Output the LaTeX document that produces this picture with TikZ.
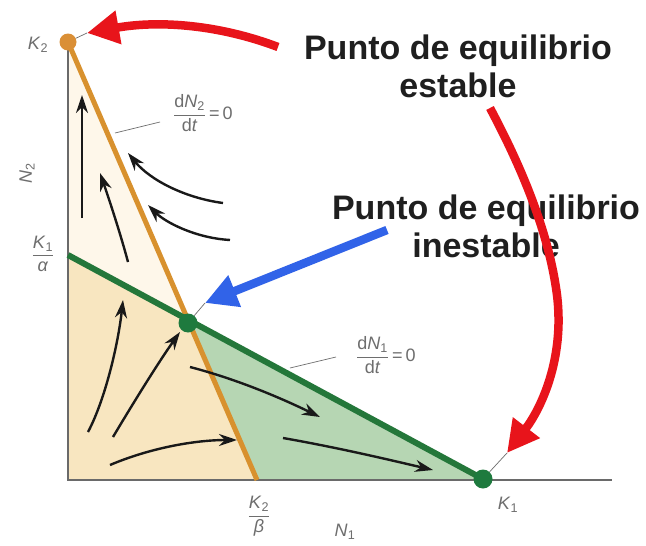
\documentclass[tikz,border=0pt]{standalone}
\usepackage{amsmath}
\usepackage{fontspec}
\setmainfont{Liberation Sans}
\usetikzlibrary{arrows.meta}
\definecolor{orangeline}{HTML}{D8912E}
\definecolor{orangedot}{HTML}{DA8F36}
\definecolor{greenline}{HTML}{24773A}
\definecolor{greendot}{HTML}{1E7A3E}
\definecolor{yellowfill}{HTML}{F8E6C0}
\definecolor{creamfill}{HTML}{FEF7EA}
\definecolor{greenfill}{HTML}{B6D6B3}
\definecolor{redarrow}{HTML}{E8141B}
\definecolor{bluearrow}{HTML}{3163E8}
\definecolor{axisgray}{HTML}{6A6A6A}
\definecolor{labelgray}{HTML}{6E6E6E}
\newcommand{\fr}[2]{\ensuremath{\dfrac{\mbox{#1}}{\mbox{#2}}}}
\tikzset{
  axisline/.style={draw=axisgray, line width=1.3pt},
  leader/.style={draw=labelgray, line width=0.7pt},
  phase/.style={draw=black!90, line width=2.4pt, -{Stealth[length=18pt,width=12pt]}},
  bigred/.style={draw=redarrow, line width=8.5pt, -{Triangle[length=32pt,width=32pt]}},
  bigblue/.style={draw=bluearrow, line width=8.5pt, -{Triangle[length=32pt,width=32pt]}},
  glabel/.style={text=labelgray, font=\fontsize{18}{20}\selectfont, inner sep=1pt},
  title/.style={text=black!88, font=\fontsize{34}{38}\selectfont\bfseries, align=center, inner sep=0pt},
  dot/.style={circle, inner sep=0pt, minimum size=#1}
}
\begin{document}
\begin{tikzpicture}[x=1pt,y=-1pt]
\useasboundingbox (0,0) rectangle (646,546);
\fill[white] (0,0) rectangle (646,546);
% key points
\coordinate (O) at (68,480);
\coordinate (K2p) at (68,42);
\coordinate (K1a) at (68,255);
\coordinate (K2b) at (257,480);
\coordinate (K1p) at (483,479);
\coordinate (X) at (188,323);
% fills
\fill[creamfill] (K2p) -- (X) -- (K1a) -- cycle;
\fill[yellowfill] (K1a) -- (X) -- (K2b) -- (O) -- cycle;
\fill[greenfill] (X) -- (K2b) -- (K1p) -- cycle;
% axes
\draw[axisline] (68,38) -- (O) -- (612,480);
% isoclines
\draw[draw=orangeline, line width=5pt] (K2p) -- (K2b);
\draw[draw=greenline, line width=6pt] (K1a) -- (K1p);
% dots
\node[dot=17pt, fill=orangedot] (dK2) at (K2p) {};
\node[dot=19pt, fill=greendot] (dX) at (X) {};
\node[dot=19pt, fill=greendot] (dK1) at (K1p) {};
% phase arrows
\coordinate (a1s) at (82,218); \coordinate (a1e) at (82,95);
\draw[phase] (a1s) -- (a1e);
\coordinate (a2s) at (128,262); \coordinate (a2e) at (100,173);
\draw[phase] (a2s) .. controls (120,232) and (108,196) .. (a2e);
\coordinate (a3s) at (223,203); \coordinate (a3e) at (128,153);
\draw[phase] (a3s) .. controls (185,198) and (150,180) .. (a3e);
\coordinate (a4s) at (230,240); \coordinate (a4e) at (148,205);
\draw[phase] (a4s) .. controls (195,238) and (165,222) .. (a4e);
\coordinate (a5s) at (88,432); \coordinate (a5e) at (123,300);
\draw[phase] (a5s) .. controls (105,400) and (118,345) .. (a5e);
\coordinate (a6s) at (113,437); \coordinate (a6e) at (180,332);
\draw[phase] (a6s) .. controls (135,400) and (160,360) .. (a6e);
\coordinate (a7s) at (110,465); \coordinate (a7e) at (237,440);
\draw[phase] (a7s) .. controls (150,448) and (195,440) .. (a7e);
\coordinate (a8s) at (190,367); \coordinate (a8e) at (320,417);
\draw[phase] (a8s) .. controls (240,380) and (285,400) .. (a8e);
\coordinate (a9s) at (283,438); \coordinate (a9e) at (433,470);
\draw[phase] (a9s) .. controls (340,448) and (390,460) .. (a9e);
% axis labels
\node[glabel] (lK2) at (38,45) {\textit{K}\textsubscript{2}};
\node[glabel, rotate=90] (lN2) at (27,173) {\textit{N}\textsubscript{2}};
\node[glabel] (lK1a) at (43,254) {\fr{\textit{K}\textsubscript{1}}{\textit{α}}};
\node[glabel] (lK2b) at (259,516) {\fr{\textit{K}\textsubscript{2}}{\textit{β}}};
\node[glabel] (lN1) at (345,532) {\textit{N}\textsubscript{1}};
\node[glabel] (lK1) at (508,505) {\textit{K}\textsubscript{1}};
% isocline labels
\node[glabel] (lI2) at (203,113) {\fr{d\textit{N}\textsubscript{2}}{d\textit{t}}\,=\,0};
\node[glabel] (lI1) at (386,355) {\fr{d\textit{N}\textsubscript{1}}{d\textit{t}}\,=\,0};
\coordinate (ld2a) at (115,133); \coordinate (ld2b) at (160,122);
\draw[leader] (ld2a) -- (ld2b);
\coordinate (ld1a) at (290,368); \coordinate (ld1b) at (336,357);
\draw[leader] (ld1a) -- (ld1b);
% titles
\node[title] (tS) at (458,66) {Punto de equilibrio\\estable};
\node[title] (tU) at (486,226) {Punto de equilibrio\\inestable};
% big arrows
\coordinate (r1s) at (278,47); \coordinate (r1e) at (87,33);
\draw[bigred] (r1s) .. controls (220,25) and (160,20) .. (r1e);
\draw[leader] (r1e) -- (dK2);
\coordinate (r2s) at (490,108); \coordinate (r2m) at (557,295); \coordinate (r2e) at (507,453);
\draw[bigred] (r2s) .. controls (515,155) and (548,225) .. (r2m) .. controls (565,360) and (540,410) .. (r2e);
\draw[leader] (r2e) -- (dK1);
\coordinate (bs) at (387,230); \coordinate (be) at (205,303);
\draw[bigblue] (bs) -- (be);
\draw[leader] (be) -- (dX);
\end{tikzpicture}
\end{document}
